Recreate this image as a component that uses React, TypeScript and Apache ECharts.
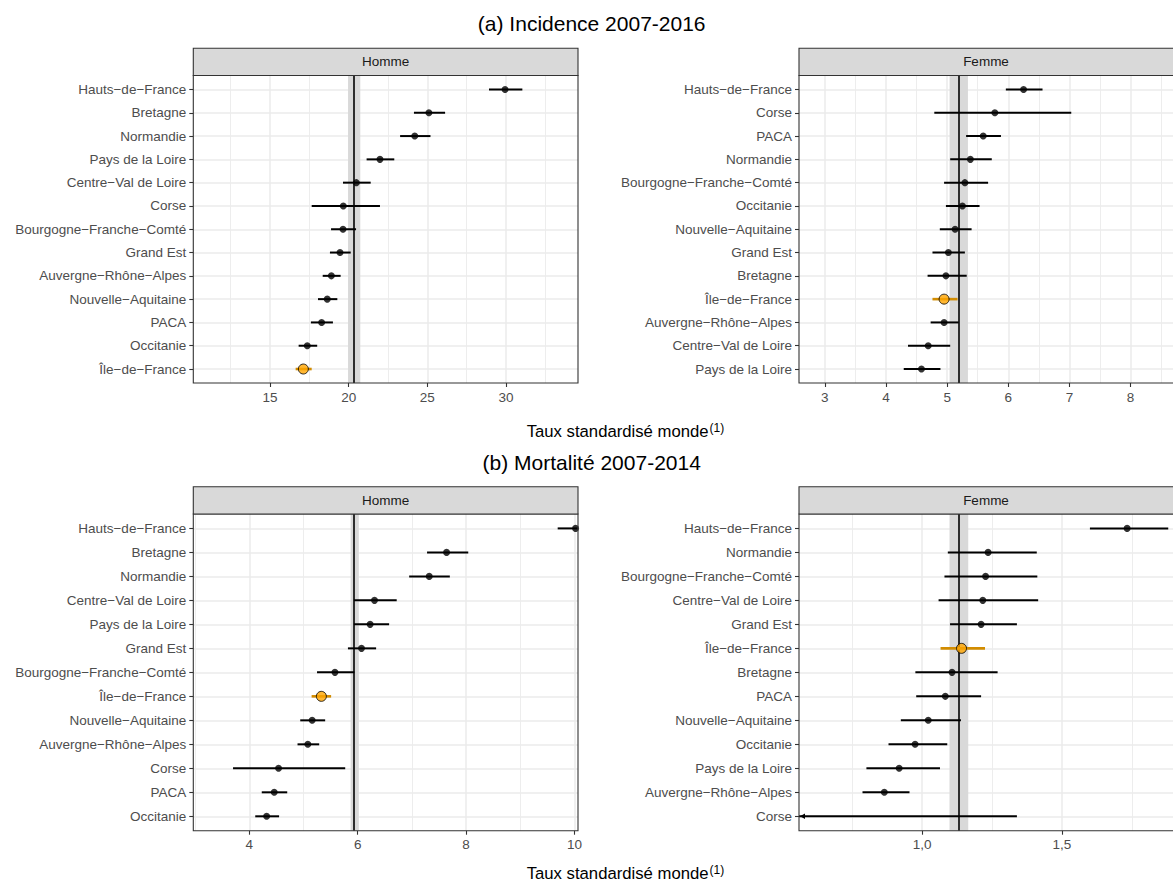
import React, { useEffect, useRef } from "react";
import * as echarts from "echarts";

const FONT = "'Liberation Sans', Arial, Helvetica, sans-serif";

// ---------- (a) Incidence 2007-2016, Homme ----------
const incHommeRegions = [
  "Hauts−de−France", "Bretagne", "Normandie", "Pays de la Loire", "Centre−Val de Loire", "Corse",
  "Bourgogne−Franche−Comté", "Grand Est", "Auvergne−Rhône−Alpes", "Nouvelle−Aquitaine", "PACA", "Occitanie", "Île−de−France",
];
const incHommeValues = [29.94, 25.1, 24.2, 21.99, 20.49, 19.66, 19.64, 19.45, 18.9, 18.64, 18.28, 17.37, 17.12];
const incHommeLow = [28.92, 24.15, 23.27, 21.14, 19.64, 17.65, 18.88, 18.81, 18.35, 18.05, 17.6, 16.82, 16.63];
const incHommeHigh = [31.04, 26.13, 25.2, 22.9, 21.4, 21.99, 20.47, 20.13, 19.49, 19.28, 19.0, 18.0, 17.65];
const incHommeRef = [19.96, 20.32, 20.74];
const incHommeTicks = [15, 20, 25, 30];
const incHommeMinor = [12.5, 17.5, 22.5, 27.5, 32.5];

// ---------- (a) Incidence 2007-2016, Femme ----------
const incFemmeRegions = [
  "Hauts−de−France", "Corse", "PACA", "Normandie", "Bourgogne−Franche−Comté", "Occitanie", "Nouvelle−Aquitaine",
  "Grand Est", "Bretagne", "Île−de−France", "Auvergne−Rhône−Alpes", "Centre−Val de Loire", "Pays de la Loire",
];
const incFemmeValues = [6.25, 5.78, 5.59, 5.38, 5.29, 5.25, 5.13, 5.02, 4.98, 4.95, 4.95, 4.69, 4.58];
const incFemmeLow = [5.96, 4.79, 5.31, 5.05, 4.95, 4.98, 4.88, 4.76, 4.68, 4.76, 4.73, 4.36, 4.29];
const incFemmeHigh = [6.56, 7.03, 5.88, 5.73, 5.67, 5.53, 5.4, 5.29, 5.32, 5.17, 5.19, 5.05, 4.89];
const incFemmeRef = [5.04, 5.19, 5.34];
const incFemmeTicks = [3, 4, 5, 6, 7, 8];
const incFemmeMinor = [3.5, 4.5, 5.5, 6.5, 7.5, 8.5];

// ---------- (b) Mortalité 2007-2014, Homme ----------
const morHommeRegions = [
  "Hauts−de−France", "Bretagne", "Normandie", "Centre−Val de Loire", "Pays de la Loire", "Grand Est",
  "Bourgogne−Franche−Comté", "Île−de−France", "Nouvelle−Aquitaine", "Auvergne−Rhône−Alpes", "Corse", "PACA", "Occitanie",
];
const morHommeValues = [10.02, 7.64, 7.32, 6.31, 6.23, 6.07, 5.58, 5.33, 5.16, 5.08, 4.54, 4.46, 4.32];
const morHommeLow = [9.69, 7.28, 6.95, 5.93, 5.93, 5.82, 5.25, 5.15, 4.94, 4.89, 3.7, 4.23, 4.11];
const morHommeHigh = [10.4, 8.04, 7.7, 6.72, 6.58, 6.34, 5.94, 5.51, 5.4, 5.29, 5.77, 4.7, 4.55];
const morHommeRef = [5.87, 5.93, 6.02];
const morHommeTicks = [4, 6, 8, 10];
const morHommeMinor = [3, 5, 7, 9];

// ---------- (b) Mortalité 2007-2014, Femme ----------
const morFemmeRegions = [
  "Hauts−de−France", "Normandie", "Bourgogne−Franche−Comté", "Centre−Val de Loire", "Grand Est", "Île−de−France",
  "Bretagne", "PACA", "Nouvelle−Aquitaine", "Occitanie", "Pays de la Loire", "Auvergne−Rhône−Alpes", "Corse",
];
const morFemmeValues = [1.733, 1.236, 1.227, 1.217, 1.211, 1.141, 1.107, 1.083, 1.022, 0.975, 0.918, 0.865, 0.48];
const morFemmeLow = [1.6, 1.092, 1.08, 1.059, 1.1, 1.066, 0.976, 0.979, 0.924, 0.88, 0.801, 0.787, 0.2];
const morFemmeHigh = [1.88, 1.41, 1.412, 1.415, 1.339, 1.225, 1.27, 1.211, 1.139, 1.09, 1.064, 0.955, 1.339];
const morFemmeRef = [1.098, 1.13, 1.165];
const morFemmeTicks = [1.0, 1.5];
const morFemmeMinor = [0.75, 1.25, 1.75];

const HIGHLIGHT = "Île−de−France";
const ORANGE_FILL = "#FFA500";
const ORANGE_BAR = "#D28C00";

type Panel = {
  regions: string[];
  values: number[];
  low: number[];
  high: number[];
  ref: number[];
  ticks: number[];
  minor: number[];
  min: number;
  max: number;
  box: [number, number, number, number];
  strip: string;
  comma?: boolean;
};

const panels: Panel[] = [
  {
    regions: incHommeRegions, values: incHommeValues, low: incHommeLow, high: incHommeHigh, ref: incHommeRef,
    ticks: incHommeTicks, minor: incHommeMinor, min: 10.125, max: 34.577,
    box: [193.3, 75.5, 384.7, 307.5], strip: "Homme",
  },
  {
    regions: incFemmeRegions, values: incFemmeValues, low: incFemmeLow, high: incFemmeHigh, ref: incFemmeRef,
    ticks: incFemmeTicks, minor: incFemmeMinor, min: 2.577, max: 8.694,
    box: [799, 75.5, 376, 307.5], strip: "Femme",
  },
  {
    regions: morHommeRegions, values: morHommeValues, low: morHommeLow, high: morHommeHigh, ref: morHommeRef,
    ticks: morHommeTicks, minor: morHommeMinor, min: 2.967, max: 10.065,
    box: [193.3, 514, 384.7, 316.7], strip: "Homme",
  },
  {
    regions: morFemmeRegions, values: morFemmeValues, low: morFemmeLow, high: morFemmeHigh, ref: morFemmeRef,
    ticks: morFemmeTicks, minor: morFemmeMinor, min: 0.56, max: 1.897,
    box: [799, 514, 376, 316.7], strip: "Femme", comma: true,
  },
];

function buildOption() {
  const grid: any[] = [];
  const xAxis: any[] = [];
  const yAxis: any[] = [];
  const series: any[] = [];
  const graphic: any[] = [];

  panels.forEach((p, i) => {
    const n = p.regions.length;
    const rows = p.regions.map((_, j) => n - 1 - j);
    const [left, top, width, height] = p.box;
    grid.push({ left, top, width, height, show: false, containLabel: false });

    xAxis.push({
      type: "value",
      gridIndex: i,
      min: p.min,
      max: p.max,
      axisLine: { show: false, onZero: false },
      axisTick: { show: true, length: 4, customValues: p.ticks, lineStyle: { color: "#333333", width: 1.1 } },
      axisLabel: {
        show: true,
        customValues: p.ticks,
        margin: 7,
        color: "#4d4d4d",
        fontSize: 13.5,
        fontFamily: FONT,
        formatter: (v: number) => (p.comma ? v.toFixed(1).replace(".", ",") : String(v)),
      },
      splitLine: { show: false },
      minorSplitLine: { show: false },
    });

    yAxis.push({
      type: "value",
      gridIndex: i,
      min: -0.6,
      max: n - 0.4,
      axisLine: { show: false, onZero: false },
      axisTick: { show: true, length: 4, customValues: rows, lineStyle: { color: "#333333", width: 1.1 } },
      axisLabel: {
        show: true,
        customValues: rows,
        margin: 7,
        color: "#4d4d4d",
        fontSize: 13.5,
        fontFamily: FONT,
        formatter: (v: number) => p.regions[n - 1 - Math.round(v)] ?? "",
      },
      splitLine: { show: false },
    });

    const gridLineData: any[] = [
      ...p.minor.map((t) => ({ xAxis: t, lineStyle: { color: "#ebebeb", width: 0.9, type: "solid" } })),
      ...p.ticks.map((t) => ({ xAxis: t, lineStyle: { color: "#ebebeb", width: 1.5, type: "solid" } })),
      ...rows.map((r) => ({ yAxis: r, lineStyle: { color: "#ebebeb", width: 1.5, type: "solid" } })),
    ];

    series.push({
      type: "custom",
      xAxisIndex: i,
      yAxisIndex: i,
      z: 4,
      silent: true,
      dimensions: ["lo", "hi", "y", "hl"],
      encode: { x: [0, 1], y: 2 },
      data: p.low.map((lo, j) => [lo, p.high[j], n - 1 - j, p.regions[j] === HIGHLIGHT ? 1 : 0]),
      renderItem: (params: any, api: any) => {
        const lo = api.value(0);
        const hi = api.value(1);
        const y = api.value(2);
        const hl = api.value(3);
        const cs = params.coordSys;
        const a = api.coord([lo, y]);
        const b = api.coord([hi, y]);
        const xl = Math.max(a[0], cs.x);
        const xr = Math.min(b[0], cs.x + cs.width);
        const yy = a[1];
        const color = hl ? ORANGE_BAR : "#000000";
        const children: any[] = [
          {
            type: "line",
            shape: { x1: xl, y1: yy, x2: xr, y2: yy },
            style: { stroke: color, lineWidth: hl ? 2.6 : 2 },
          },
        ];
        if (a[0] < cs.x) {
          children.push({
            type: "polygon",
            shape: { points: [[xl + 1, yy], [xl + 6, yy - 2.8], [xl + 6, yy + 2.8]] },
            style: { fill: color },
          });
        }
        return { type: "group", children };
      },
      markArea: {
        silent: true,
        z: 2,
        label: { show: false },
        itemStyle: { color: "#d9d9d9" },
        emphasis: { disabled: true },
        data: [[{ xAxis: p.ref[0] }, { xAxis: p.ref[2] }]],
      },
      markLine: {
        silent: true,
        z: 3,
        symbol: ["none", "none"],
        label: { show: false },
        emphasis: { disabled: true },
        lineStyle: { color: "#1a1a1a", width: 1.8, type: "solid" },
        data: [{ xAxis: p.ref[1] }],
      },
    });

    series.push({
      type: "scatter",
      xAxisIndex: i,
      yAxisIndex: i,
      z: 5,
      silent: true,
      clip: true,
      data: p.values.map((v, j) => {
        const hl = p.regions[j] === HIGHLIGHT;
        return {
          value: [v, n - 1 - j],
          symbolSize: hl ? 10 : 7,
          itemStyle: hl
            ? { color: ORANGE_FILL, borderColor: "#000000", borderWidth: 1 }
            : { color: "#000000", borderWidth: 0 },
        };
      }),
      markLine: {
        silent: true,
        z: 1,
        symbol: ["none", "none"],
        label: { show: false },
        emphasis: { disabled: true },
        data: gridLineData,
      },
    });

    // panel border
    graphic.push({
      type: "rect",
      z: 100,
      silent: true,
      shape: { x: left, y: top, width, height },
      style: { fill: "none", stroke: "#333333", lineWidth: 1.1 },
    });
    // strip
    graphic.push({
      type: "rect",
      z: 100,
      silent: true,
      shape: { x: left, y: top - 27.2, width, height: 27.2 },
      style: { fill: "#d9d9d9", stroke: "#333333", lineWidth: 1.1 },
    });
    graphic.push({
      type: "text",
      z: 101,
      silent: true,
      x: left + width / 2 - (i % 2 === 1 ? 1 : 0),
      y: top - 13.6,
      style: {
        text: p.strip,
        fill: "#1a1a1a",
        fontSize: 13.5,
        fontFamily: FONT,
        align: "center",
        verticalAlign: "middle",
      },
    });
  });

  const titles = [
    { text: "(a) Incidence 2007-2016", y: 23 },
    { text: "(b) Mortalité 2007-2014", y: 462 },
  ];
  titles.forEach((t) => {
    graphic.push({
      type: "text",
      z: 101,
      silent: true,
      x: 591.7,
      y: t.y,
      style: { text: t.text, fill: "#000000", fontSize: 21, fontFamily: FONT, align: "center", verticalAlign: "middle" },
    });
  });

  [431, 873].forEach((y) => {
    graphic.push({
      type: "text",
      z: 101,
      silent: true,
      x: 526.7,
      y,
      style: {
        text: "{a|Taux standardisé monde}{b|(1)}",
        fill: "#000000",
        fontFamily: FONT,
        align: "left",
        verticalAlign: "middle",
        rich: {
          a: { fontSize: 16.7, fontFamily: FONT, fill: "#000000" },
          b: { fontSize: 12, fontFamily: FONT, fill: "#000000", verticalAlign: "top", padding: [0, 0, 6, 1] },
        },
      },
    });
  });

  return {
    animation: false,
    backgroundColor: "#ffffff",
    textStyle: { fontFamily: FONT },
    grid,
    xAxis,
    yAxis,
    series,
    graphic: { elements: graphic },
  };
}

export default function App() {
  const ref = useRef<HTMLDivElement>(null);
  useEffect(() => {
    if (!ref.current) return;
    const chart = echarts.init(ref.current, undefined, { renderer: "svg" });
    chart.setOption(buildOption() as any);
    return () => chart.dispose();
  }, []);
  return (
    <div
      ref={ref}
      style={{ position: "fixed", left: 0, top: 0, width: 1173, height: 882, background: "#ffffff" }}
    />
  );
}
